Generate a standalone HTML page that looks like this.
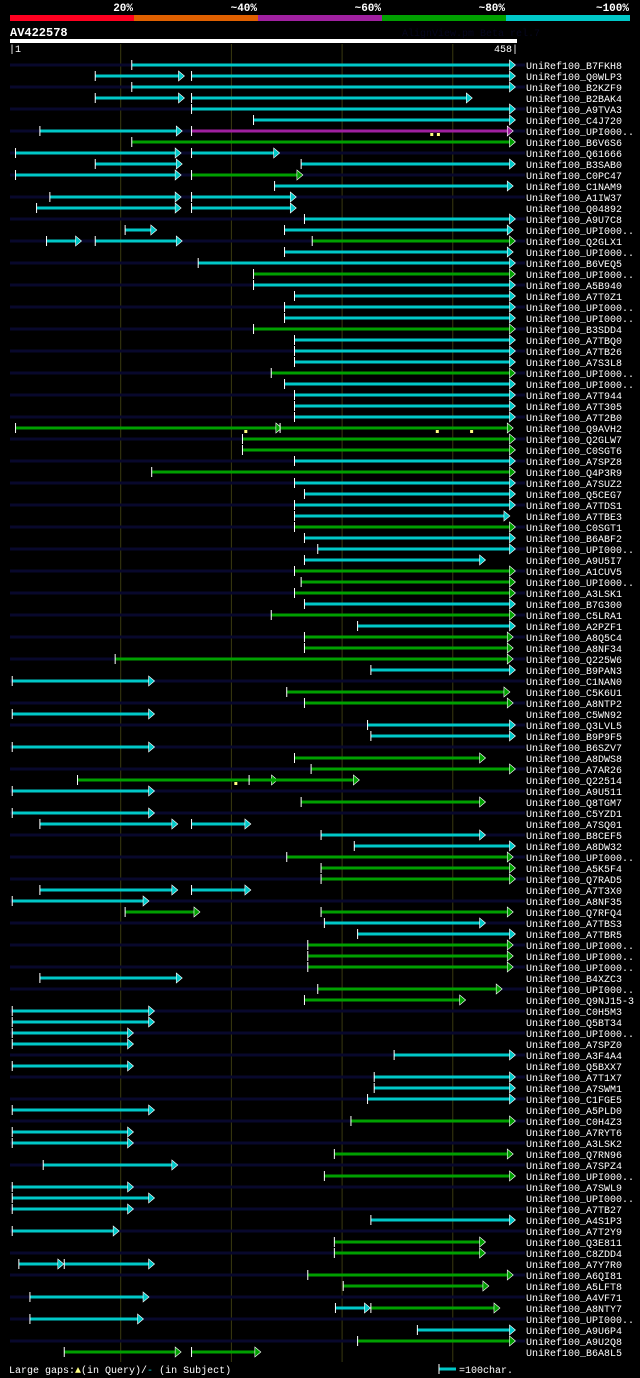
<!DOCTYPE html>
<html><head><meta charset="utf-8"><style>
html,body{margin:0;padding:0;background:#000;}
svg{display:block;}
text{font-family:"Liberation Mono","DejaVu Sans Mono",monospace;}
</style></head><body>
<svg id="chart" width="640" height="1378" viewBox="0 0 640 1378" xmlns="http://www.w3.org/2000/svg">
<rect x="0" y="0" width="640" height="1378" fill="#000"/>
<g id="legendTop"></g>
<text x="10" y="36" fill="#fff" font-size="12" font-weight="bold">AV422578</text>
<text x="402" y="36" fill="#06061e" font-size="10">AlignView.pm Beta rel.7</text>
<rect x="10" y="39" width="507" height="4" fill="#fff"/>
<text x="9" y="52" fill="#fff" font-size="10">|1</text>
<text x="518" y="52" fill="#fff" font-size="10" text-anchor="end">458|</text>
<g id="grid"></g>
<g id="rows"></g>
<text x="9" y="1373" fill="#fff" font-size="10">Large gaps:<tspan fill="#ffff80">▲</tspan>(in Query)/<tspan fill="#00c8c8">-</tspan> (in Subject)</text>
<line x1="439" y1="1369" x2="456" y2="1369" stroke="#00c8c8" stroke-width="3"/>
<line x1="439" y1="1364" x2="439" y2="1374" stroke="#fff" stroke-width="1"/>
<text x="459" y="1373" fill="#fff" font-size="10">=100char.</text>
</svg>
<script>
const queryLength = 458;
const gridTicks = [100, 200, 300, 400];
const legendLabels = ["20%", "~40%", "~60%", "~80%", "~100%"];
const legendColors = ["#ff0020", "#e06000", "#a020a0", "#00a000", "#00c8c8"];
const hitNames = ["B7FKH8","Q0WLP3","B2KZF9","B2BAK4","A9TVA3","C4J720","UPI000..","B6V6S6","Q61666","B3SAB0","C0PC47","C1NAM9","A1IW37","Q04892","A9U7C8","UPI000..","Q2GLX1","UPI000..","B6VEQ5","UPI000..","A5B940","A7T0Z1","UPI000..","UPI000..","B3SDD4","A7TBQ0","A7TB26","A7S3L8","UPI000..","UPI000..","A7T944","A7T305","A7T2B0","Q9AVH2","Q2GLW7","C0SGT6","A7SPZ8","Q4P3R9","A7SUZ2","Q5CEG7","A7TDS1","A7TBE3","C0SGT1","B6ABF2","UPI000..","A9U5I7","A1CUV5","UPI000..","A3LSK1","B7G300","C5LRA1","A2PZF1","A8Q5C4","A8NF34","Q225W6","B9PAN3","C1NAN0","C5K6U1","A8NTP2","C5WN92","Q3LVL5","B9P9F5","B6SZV7","A8DWS8","A7AR26","Q22514","A9U511","Q8TGM7","C5YZD1","A7SQ01","B8CEF5","A8DW32","UPI000..","A5K5F4","Q7RAD5","A7T3X0","A8NF35","Q7RFQ4","A7TBS3","A7TBR5","UPI000..","UPI000..","UPI000..","B4XZC3","UPI000..","Q9NJ15-3","C0H5M3","Q5BT34","UPI000..","A7SPZ0","A3F4A4","Q5BXX7","A7T1X7","A7SWM1","C1FGE5","A5PLD0","C0H4Z3","A7RYT6","A3LSK2","Q7RN96","A7SPZ4","UPI000..","A7SWL9","UPI000..","A7TB27","A4S1P3","A7T2Y9","Q3E811","C8ZDD4","A7Y7R0","A6QI81","A5LFT8","A4VF71","A8NTY7","UPI000..","A9U6P4","A9U2Q8","B6A8L5"];
const segStarts = [[110],[77,164],[110],[77,164],[164],[220],[27,164],[110],[5,164],[77,263],[5,164],[239],[36,164],[24,164],[266],[104,248],[33,77,273],[248],[170],[220],[220],[257],[248],[248],[220],[257],[257],[257],[236],[248],[257],[257],[257],[5,244],[210],[210],[257],[128],[257],[266],[257],[257],[257],[266],[278],[266],[257],[263],[257],[266],[236],[314],[266],[266],[95],[326],[2],[250],[266],[2],[323],[326],[2],[257],[272],[61,216],[2],[263],[2],[27,164],[281],[311],[250],[281],[281],[27,164],[2],[104,281],[284],[314],[269],[269],[269],[27],[278],[266],[2],[2],[2],[2],[347],[2],[329],[329],[323],[2],[308],[2],[2],[293],[30],[284],[2],[2],[2],[326],[2],[293],[293],[8,49],[269],[301],[18],[294,326],[18],[368],[314],[49,164]];
const segEnds = [[453],[154,453],[453],[154,414],[453],[453],[152,451],[453],[151,240],[152,453],[151,261],[451],[151,255],[151,255],[453],[129,451],[61,152,453],[451],[453],[453],[453],[453],[453],[453],[453],[453],[453],[453],[453],[453],[453],[453],[453],[242,451],[453],[453],[453],[453],[453],[453],[453],[448],[453],[453],[453],[426],[453],[453],[453],[453],[453],[453],[451],[451],[451],[453],[127],[448],[451],[127],[453],[453],[127],[426],[453],[238,312],[127],[426],[127],[148,214],[426],[453],[451],[453],[453],[148,214],[122],[168,451],[426],[453],[451],[451],[451],[152],[441],[408],[127],[127],[108],[108],[453],[108],[453],[453],[453],[127],[453],[108],[108],[451],[148],[453],[108],[127],[108],[453],[95],[426],[426],[45,127],[451],[429],[122],[322,439],[117],[453],[453],[151,223]];
const segColors = ["c","cc","c","cc","c","c","cm","g","cc","cc","cg","c","cc","cc","c","cc","ccg","c","c","g","c","c","c","c","g","c","c","c","g","c","c","c","c","gg","g","g","c","g","c","c","c","c","g","c","c","c","g","g","g","c","g","c","g","g","g","c","c","g","g","c","c","c","c","g","g","gg","c","g","c","cc","c","c","g","g","g","cc","c","gg","c","c","g","g","g","c","g","g","c","c","c","c","c","c","c","c","c","c","g","c","c","g","c","g","c","c","c","c","c","g","g","cc","g","g","c","cg","c","c","g","gg"];
const queryGapRows = [7, 7, 34, 34, 34, 66];
const queryGapPos = [381, 387, 213, 386, 417, 204];

const NS = "http://www.w3.org/2000/svg";
const X0 = 10, PX = 507 / queryLength;
function xScale(r){ return X0 + r * PX; }
function yRow(i){ return 65 + i * 11; }
const colorMap = {c:"#00c8c8", g:"#00a000", m:"#a020a0"};
function mk(tag, attrs, parent){
  const el = document.createElementNS(NS, tag);
  for (const k in attrs) el.setAttribute(k, attrs[k]);
  parent.appendChild(el);
  return el;
}
const lg = document.getElementById("legendTop");
legendLabels.forEach((lab, i) => {
  const x1 = 10 + i * 124, x2 = x1 + 124;
  const r = mk("rect", {x:x1, y:15, width:124, height:6, fill:legendColors[i]}, lg);
  
  
  const t = mk("text", {x:x2 - 1, y:11, fill:"#fff", "font-size":"11", "font-weight":"bold", "text-anchor":"end"}, lg);
  t.textContent = lab;
  
  
});
const gg = document.getElementById("grid");
gridTicks.forEach(v => {
  const l = mk("line", {x1:xScale(v), x2:xScale(v), y1:44, y2:1362, stroke:"#3a3a10", "stroke-width":1}, gg);
  
  
});
const rg = document.getElementById("rows");
hitNames.forEach((name, i) => {
  const y = yRow(i);
  const g = mk("g", {}, rg);
  
  
  if (i % 2 === 0) {
    const bg = mk("line", {x1:10, x2:525, y1:y, y2:y, stroke:"#08082c", "stroke-width":3}, g);
    
    
  }
  const st = segStarts[i], en = segEnds[i], cs = segColors[i];
  for (let k = 0; k < st.length; k++) {
    const xa = xScale(st[k]), xb = xScale(en[k]);
    const col = colorMap[cs[k]];
    const ln = mk("line", {x1:xa, x2:xb - 1, y1:y, y2:y, stroke:col, "stroke-width":3}, g);
    
    
    const tk = mk("line", {x1:xa, x2:xa, y1:y - 5, y2:y + 5, stroke:"#fff", "stroke-width":1}, g);
    
    
    const ar = mk("polygon", {points:(xb-2)+","+(y-5)+" "+(xb+4)+","+y+" "+(xb-2)+","+(y+5), fill:col, stroke:"#fff", "stroke-width":0.6}, g);
    
    
  }
  const t = mk("text", {x:526, y:y + 4, fill:"#fff", "font-size":"10"}, g);
  t.textContent = "UniRef100_" + name;
  
  
});
queryGapRows.forEach((row, k) => {
  const y = yRow(row - 1), x = xScale(queryGapPos[k]);
  const m = mk("rect", {x:x - 1.5, y:y + 2, width:3, height:3, fill:"#ffff80"}, rg);
  
  
});
</script>
</body></html>
